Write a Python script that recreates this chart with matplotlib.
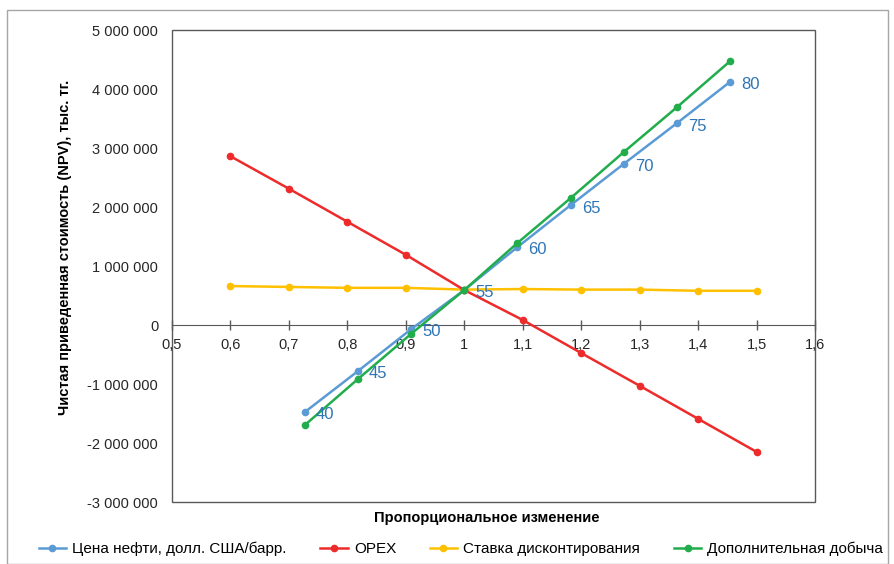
import matplotlib
matplotlib.use("Agg")
import matplotlib.pyplot as plt
from matplotlib.ticker import FuncFormatter, MultipleLocator
from matplotlib.patches import Rectangle

plt.rcParams['font.family'] = ['Liberation Sans', 'DejaVu Sans']

# цена нефти, долл./барр. и её доля от базы 55
oil_prices = [40, 45, 50, 55, 60, 65, 70, 75, 80]
oil_x = [p / 55 for p in oil_prices]
oil_npv = [-1475000, -780000, -70000, 593000, 1320000, 2030000, 2730000, 3420000, 4120000]

# дополнительная добыча (те же доли)
prod_x = oil_x
prod_npv = [-1695000, -915000, -150000, 593000, 1390000, 2150000, 2930000, 3690000, 4470000]

# OPEX и ставка дисконтирования
share_x = [0.6, 0.7, 0.8, 0.9, 1.0, 1.1, 1.2, 1.3, 1.4, 1.5]
opex_npv = [2860000, 2310000, 1750000, 1190000, 593000, 85000, -475000, -1030000, -1590000, -2150000]
rate_npv = [660000, 645000, 630000, 630000, 600000, 610000, 600000, 600000, 580000, 580000]

labels = ['Цена нефти, долл. США/барр.', 'OPEX', 'Ставка дисконтирования', 'Дополнительная добыча']
colors = ['#5B9BD5', '#EE2B2B', '#FFC000', '#21AD4B']

fig = plt.figure(figsize=(8.95, 5.64), dpi=100)
ax = fig.add_axes([0.1922, 0.1099, 0.9106 - 0.1922, 0.9468 - 0.1099])

# рамка вокруг всего рисунка
fig.patches.append(Rectangle((0.008, 0.0), 0.984, 0.982, transform=fig.transFigure,
                             fill=False, edgecolor='#A6A6A6', linewidth=1.0))

kw = dict(linewidth=1.8, marker='o', markersize=4.5)
ax.plot(oil_x, oil_npv, color=colors[0], label=labels[0], zorder=4, **kw)
ax.plot(share_x, opex_npv, color=colors[1], label=labels[1], zorder=3, **kw)
ax.plot(share_x, rate_npv, color=colors[2], label=labels[2], zorder=2, **kw)
ax.plot(prod_x, prod_npv, color=colors[3], label=labels[3], zorder=5, **kw)

for x, y, p in zip(oil_x, oil_npv, oil_prices):
    ax.annotate(str(p), (x, y), xytext=(8, -2), textcoords='offset points',
                color='#2E75B6', fontsize=12, ha='left', va='center', zorder=6)

ax.set_xlim(0.5, 1.6)
ax.set_ylim(-3000000, 5000000)
ax.xaxis.set_major_locator(MultipleLocator(0.1))
ax.yaxis.set_major_locator(MultipleLocator(1000000))


def fmt_x(v, pos):
    s = ('%.1f' % v).rstrip('0').rstrip('.')
    return s.replace('.', ',')


def fmt_y(v, pos):
    s = '{:,.0f}'.format(v).replace(',', ' ')
    return s


ax.xaxis.set_major_formatter(FuncFormatter(fmt_x))
ax.yaxis.set_major_formatter(FuncFormatter(fmt_y))

for s in ['top', 'right', 'left']:
    ax.spines[s].set_visible(False)
ax.spines['bottom'].set_position(('data', 0))
ax.spines['bottom'].set_color('#595959')
ax.add_patch(Rectangle((0, 0), 1, 1, transform=ax.transAxes, fill=False,
                       edgecolor='#595959', linewidth=1.0, clip_on=False, zorder=1))

ax.tick_params(axis='x', direction='inout', length=7, width=1, color='#595959',
               labelsize=10.5, pad=6, labelcolor='#262626')
ax.tick_params(axis='y', length=0, labelsize=10.5, pad=10, labelcolor='#262626')

ax.set_xlabel('Пропорциональное изменение', fontsize=10.5, fontweight='bold', labelpad=0)
ax.xaxis.set_label_coords(0.49, -0.018)
ax.set_ylabel('Чистая приведенная стоимость (NPV), тыс. тг.', fontsize=10.5, fontweight='bold')
ax.yaxis.set_label_coords(-0.155, 0.54)

fig.legend(loc='center', bbox_to_anchor=(0.515, 0.027), ncol=4, frameon=False,
           prop={'family': ['Liberation Sans Narrow', 'Liberation Sans'], 'size': 11},
           handlelength=1.8, columnspacing=2.2, handletextpad=0.4)

fig.savefig('out.png', dpi=100)
